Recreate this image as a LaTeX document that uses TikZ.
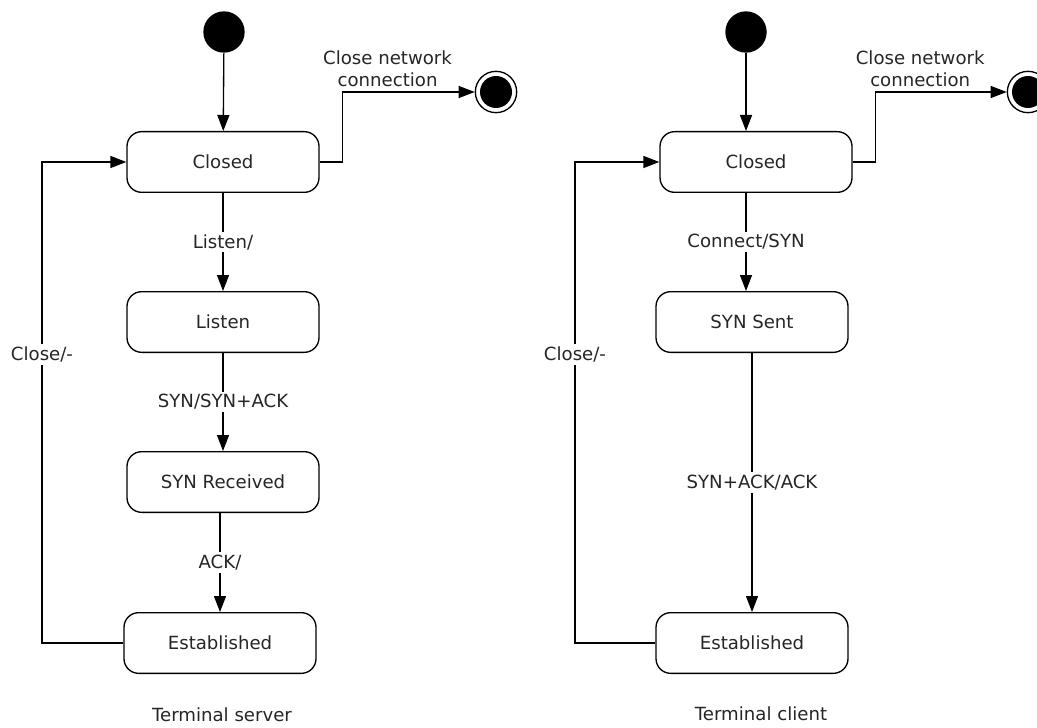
\documentclass[tikz,border=0pt]{standalone}
\usepackage{fontspec}
\setmainfont{DejaVu Sans}
\usetikzlibrary{arrows.meta}

\begin{document}
\begin{tikzpicture}[x=0.75pt,y=-0.75pt,>={Triangle[length=12pt,width=9pt]},line width=1pt,
    every node/.style={font=\fontsize{13.6}{16.5}\selectfont,text=black!85},
    state/.style={draw,rounded corners=11pt,minimum width=144pt,minimum height=45.5pt,inner sep=0pt},
    startdot/.style={circle,fill=black,minimum size=31pt,inner sep=0pt},
    enddot/.style={circle,draw,fill=white,minimum size=31pt,inner sep=0pt,
        path picture={\fill[black] (path picture bounding box.center) circle (12pt);}},
    lbl/.style={fill=white,inner sep=2pt}]
    \useasboundingbox (0,0) rectangle (1037,727);

    \node (startS) [startdot] at (224,32) {};
    \node (closedS) [state] at (223,162) {Closed};
    \node (listenS) [state] at (223,322) {Listen};
    \node (recvS) [state] at (223,482) {SYN Received};
    \node (estS) [state] at (220,643) {Established};
    \node (endS) [enddot] at (496,92) {};
    \coordinate (loopS) at (42,357);
    \node (titleS) at (222,715) {Terminal server};

    \draw[->] (startS) -- (closedS);
    \draw[->] (closedS) -- node[lbl] (lblListen) {Listen/} (listenS);
    \draw[->] (listenS) -- node[lbl] (lblSyn) {SYN/SYN+ACK} (recvS);
    \draw[->] (recvS.south -| estS.north) -- node[lbl] (lblAck) {ACK/} (estS);
    \draw[->] (estS.west) -- (estS.west -| loopS) -- node[lbl,pos=0.6] (lblCloseS) {Close/-} (closedS.west -| loopS) -- (closedS.west);
    \draw[->] (closedS.east) -- ++(23,0) |- node[above,pos=0.67,align=center] (lblNetS) {Close network\\connection} (endS);

    \node (startC) [startdot] at (746,32) {};
    \node (closedC) [state] at (756,162) {Closed};
    \node (sentC) [state] at (752,322) {SYN Sent};
    \node (estC) [state] at (752,643) {Established};
    \node (endC) [enddot] at (1028,92) {};
    \coordinate (loopC) at (575,357);
    \node (titleC) at (761,714) {Terminal client};

    \draw[->] (startC) -- (startC |- closedC.north);
    \draw[->] (startC |- closedC.south) -- node[lbl] (lblConnect) {Connect/SYN} (startC |- sentC.north);
    \draw[->] (sentC) -- node[lbl] (lblSynAck) {SYN+ACK/ACK} (estC);
    \draw[->] (estC.west) -- (estC.west -| loopC) -- node[lbl,pos=0.6] (lblCloseC) {Close/-} (closedC.west -| loopC) -- (closedC.west);
    \draw[->] (closedC.east) -- ++(23,0) |- node[above,pos=0.67,align=center] (lblNetC) {Close network\\connection} (endC);
\end{tikzpicture}
\end{document}
